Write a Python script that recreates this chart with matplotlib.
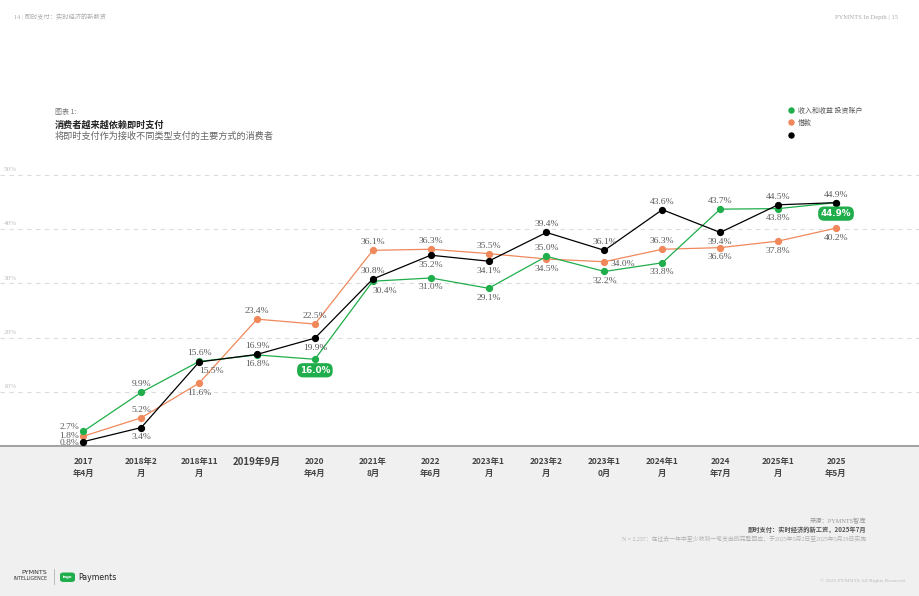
import matplotlib
matplotlib.use('Agg')
import matplotlib.pyplot as plt
from matplotlib.patches import Rectangle, FancyBboxPatch
from matplotlib.lines import Line2D

plt.rcParams['font.family'] = ['Noto Sans CJK SC', 'DejaVu Sans']

# ---------------- data ----------------
categories = ["2017\n年4月", "2018年2\n月", "2018年11\n月", "2019年9月", "2020\n年4月",
              "2021年\n8月", "2022\n年6月", "2023年1\n月", "2023年2\n月", "2023年1\n0月",
              "2024年1\n月", "2024\n年7月", "2025年1\n月", "2025\n年5月"]
income_invest = [2.7, 9.9, 15.6, 16.8, 16.0, 30.4, 31.0, 29.1, 35.0, 32.2, 33.8, 43.7, 43.8, 44.9]
loans = [1.8, 5.2, 11.6, 23.4, 22.5, 36.1, 36.3, 35.5, 34.5, 34.0, 36.3, 36.6, 37.8, 40.2]
overall = [0.8, 3.4, 15.5, 16.9, 19.9, 30.8, 35.2, 34.1, 39.4, 36.1, 43.6, 39.4, 44.5, 44.9]
legend_labels = ["收入和收益 投资账户", "借款", ""]
y_ticks = [10, 20, 30, 40, 50]

# label placement (style only)
place_income = ['La', 'a', 'a', 'b', 'badge', 'br', 'b', 'b', 'a', 'b', 'b', 'a', 'b', 'badge']
place_loans = ['L', 'a', 'b', 'a', 'a', 'a', 'a', 'a', 'b', 'r', 'a', 'b', 'b', 'b']
place_overall = ['Lb', 'b', 'br', 'a', 'b', 'a', 'b', 'b', 'a', 'a', 'a', 'b', 'a', 'a']

GREEN = '#1fae4b'
ORANGE = '#f0885b'
BLACK = '#000000'

W, H = 920, 596
def fx(x): return x / W
def fy(y): return 1 - y / H

fig = plt.figure(figsize=(9.2, 5.96), dpi=100)
fig.patch.set_facecolor('white')
bg = Rectangle((0, 0), 1, fy(446), transform=fig.transFigure,
               facecolor='#eff0ef', edgecolor='none', zorder=-5)
fig.patches.append(bg)

ax = fig.add_axes([0, fy(446), 1, (446 - 150) / H])
ax.set_zorder(1)
ax.set_facecolor('none')
x = list(range(len(categories)))
step = 57.9
ax.set_xlim(-83.3 / step, (W - 83.3) / step)
ax.set_ylim(0, 296 / 5.42)
for s in ax.spines.values():
    s.set_visible(False)

ax.set_yticks(y_ticks)
ax.yaxis.grid(True, linestyle=(0, (4, 4)), color='#dcdcdc', linewidth=0.8)
ax.tick_params(axis='y', length=0, labelleft=False)
ax.set_axisbelow(True)
for v in y_ticks:
    ax.annotate(f"{v}%", xy=(0.004, v), xycoords=('axes fraction', 'data'),
                xytext=(0, 2), textcoords='offset points', ha='left', va='bottom',
                fontsize=5.2, color='#c0c0c0', family=['Liberation Serif'])
ax.axhline(0, color='#9a9a9a', lw=1.3, clip_on=False, zorder=2)

ax.set_xticks(x)
ax.set_xticklabels(categories, fontsize=6.0, fontweight='bold', color='#444444',
                   linespacing=1.45)
ax.get_xticklabels()[3].set_fontsize(7.0)
ax.tick_params(axis='x', length=0, pad=8)

ax.plot(x, loans, color=ORANGE, lw=0.9, marker='o', ms=4.2, zorder=3)
ax.plot(x, income_invest, color=GREEN, lw=0.9, marker='o', ms=4.2, zorder=4)
ax.plot(x, overall, color=BLACK, lw=0.9, marker='o', ms=4.2, zorder=5)

PT = 1 / 1.389
def label(xi, v, kind, color_badge=GREEN):
    txt = f"{v:.1f}%"
    kw = dict(xy=(xi, v), textcoords='offset points', fontsize=6.8, color='#5a5a5a',
              family=['Liberation Serif'], zorder=6)
    if kind == 'a':
        ax.annotate(txt, xytext=(0, 8 * PT), ha='center', va='center', **kw)
    elif kind == 'b':
        ax.annotate(txt, xytext=(0, -9.5 * PT), ha='center', va='center', **kw)
    elif kind == 'L':
        ax.annotate(txt, xytext=(-4 * PT, 0), ha='right', va='center', **kw)
    elif kind == 'Lb':
        ax.annotate(txt, xytext=(-4 * PT, -1.5 * PT), ha='right', va='center', **kw)
    elif kind == 'La':
        ax.annotate(txt, xytext=(-4 * PT, 4.5 * PT), ha='right', va='center', **kw)
    elif kind == 'br':
        ax.annotate(txt, xytext=(0, -9.5 * PT), ha='left', va='center', **kw)
    elif kind == 'r':
        ax.annotate(txt, xytext=(6 * PT, -2 * PT), ha='left', va='center', **kw)
    elif kind == 'badge':
        ax.annotate(txt, xy=(xi, v), xytext=(0, -11 * PT), textcoords='offset points',
                    ha='center', va='center', fontsize=6.3, fontweight='bold',
                    color='white', family=['DejaVu Sans'], zorder=7,
                    bbox=dict(boxstyle='round,pad=0.3,rounding_size=0.7',
                              fc=color_badge, ec='none'))

for xi, v, k in zip(x, income_invest, place_income):
    label(xi, v, k)
for xi, v, k in zip(x, loans, place_loans):
    label(xi, v, k)
for xi, v, k in zip(x, overall, place_overall):
    label(xi, v, k)

# legend
handles = [Line2D([], [], ls='none', marker='o', ms=3.6, color=c) for c in (GREEN, ORANGE, BLACK)]
leg = fig.legend(handles, legend_labels, loc='upper left', bbox_to_anchor=(fx(789), fy(106.5)),
                 frameon=False, fontsize=5, handlelength=0.6, handletextpad=0.75,
                 labelspacing=0.62, borderpad=0, borderaxespad=0)
for t in leg.get_texts():
    t.set_color('#555555')

# titles
fig.text(fx(55), fy(112), "图表 1:", fontsize=5, color='#777777', va='center', ha='left')
fig.text(fx(55), fy(125), "消费者越来越依赖即时支付", fontsize=6.6, fontweight='bold',
         color='#222222', va='center', ha='left')
fig.text(fx(55), fy(136), "将即时支付作为接收不同类型支付的主要方式的消费者", fontsize=6.6,
         color='#666666', va='center', ha='left')

# header
serif_cjk = ['Liberation Serif', 'Noto Sans CJK SC']
fig.text(fx(14), fy(17), "14 | 即时支付：实时经济的新薪资", fontsize=4.5, color='#aaaaaa',
         va='center', ha='left', family=serif_cjk)
fig.text(fx(898), fy(17), "PYMNTS In Depth | 15", fontsize=4.8, color='#aaaaaa',
         va='center', ha='right', family=serif_cjk)

# footer
fig.text(fx(866), fy(521), "来源：PYMNTS智库", fontsize=4.5, color='#999999',
         va='center', ha='right', family=serif_cjk)
fig.text(fx(866), fy(529.5), "即时支付：实时经济的新工资，2025年7月", fontsize=4.5, color='#555555',
         fontweight='bold', va='center', ha='right')
fig.text(fx(866), fy(539), "N = 2,237：在过去一年中至少收到一笔支出的完整回应，于2025年5月2日至2025年5月29日实施",
         fontsize=4.2, color='#b0b0b0', va='center', ha='right', family=serif_cjk)
fig.text(fx(905), fy(581), "© 2025 PYMNTS All Rights Reserved", fontsize=3.9, color='#bbbbbb',
         va='center', ha='right', family=serif_cjk)

# logo
fig.text(fx(47), fy(572), "PYMNTS", fontsize=4.6, color='#333333', va='center', ha='right',
         family=['DejaVu Sans'])
fig.text(fx(47), fy(579), "INTELLIGENCE", fontsize=3.4, color='#333333', va='center', ha='right',
         family=['DejaVu Sans'])
fig.add_artist(Line2D([fx(54), fx(54)], [fy(569), fy(584)], transform=fig.transFigure,
                      color='#bbbbbb', lw=0.7))
fig.patches.append(FancyBboxPatch((fx(60), fy(582)), fx(15), (9.5 / H),
                                  boxstyle='round,pad=0,rounding_size=0.004',
                                  transform=fig.transFigure, fc=GREEN, ec='none'))
fig.text(fx(67.5), fy(577), "ingo", fontsize=2.8, color='white', fontweight='bold',
         va='center', ha='center', family=['DejaVu Sans'])
fig.text(fx(78), fy(577), "Payments", fontsize=5.6, color='#222222', va='center', ha='left',
         family=['DejaVu Sans'])

fig.savefig('out.png', dpi=100, facecolor='white')
